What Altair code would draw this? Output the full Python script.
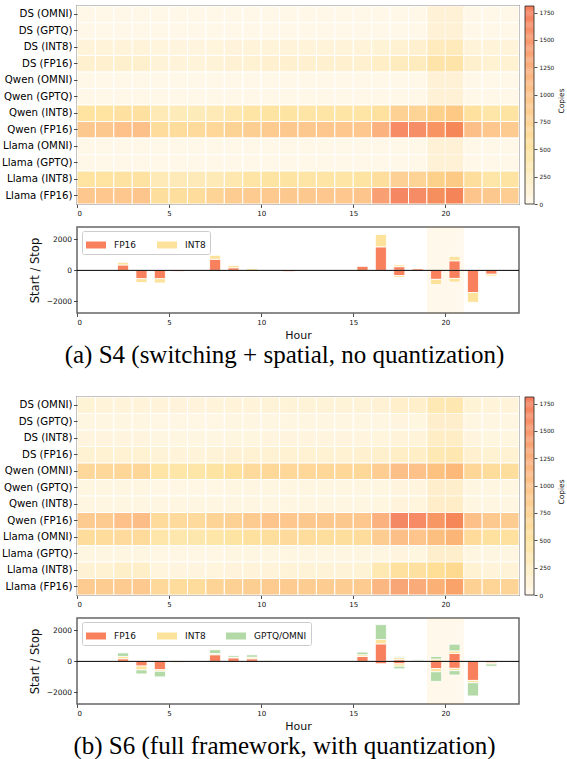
import altair as alt
import pandas as pd

# ---------------- data ----------------
hours = list(range(24))
rows = ["DS (OMNI)", "DS (GPTQ)", "DS (INT8)", "DS (FP16)",
        "Qwen (OMNI)", "Qwen (GPTQ)", "Qwen (INT8)", "Qwen (FP16)",
        "Llama (OMNI)", "Llama (GPTQ)", "Llama (INT8)", "Llama (FP16)"]

# S4 heatmap (copies per hour)
s4_ds_omni = [0, 0, 0, 0, 0, 0, 0, 0, 0, 0, 0, 0, 0, 0, 0, 0, 0, 0, 0, 0, 0, 0, 0, 0]
s4_ds_gptq = [0, 0, 0, 0, 0, 0, 0, 0, 0, 0, 0, 0, 0, 0, 0, 0, 0, 0, 0, 0, 0, 0, 0, 0]
s4_ds_int8 = [110, 110, 110, 110, 80, 70, 70, 80, 90, 100, 110, 110, 110, 110, 110, 110, 130, 160, 170, 180, 190, 110, 100, 100]
s4_ds_fp16 = [180, 180, 190, 190, 120, 110, 110, 120, 140, 160, 170, 170, 170, 170, 170, 180, 240, 290, 300, 340, 350, 190, 160, 160]
s4_qwen_omni = [0, 0, 0, 0, 0, 0, 0, 0, 0, 0, 0, 0, 0, 0, 0, 0, 0, 0, 0, 0, 0, 0, 0, 0]
s4_qwen_gptq = [0, 0, 0, 0, 0, 0, 0, 0, 0, 0, 0, 0, 0, 0, 0, 0, 0, 0, 0, 0, 0, 0, 0, 0]
s4_qwen_int8 = [520, 520, 540, 540, 360, 330, 330, 360, 400, 470, 500, 500, 470, 470, 480, 480, 560, 800, 760, 720, 860, 560, 450, 500]
s4_qwen_fp16 = [930, 930, 1030, 1040, 620, 620, 640, 700, 780, 850, 900, 930, 940, 950, 950, 960, 1200, 1650, 1620, 1560, 1720, 1060, 960, 900]
s4_llama_omni = [0, 0, 0, 0, 0, 0, 0, 0, 0, 0, 0, 0, 0, 0, 0, 0, 0, 0, 0, 0, 0, 0, 0, 0]
s4_llama_gptq = [0, 0, 0, 0, 0, 0, 0, 0, 0, 0, 0, 0, 0, 0, 0, 0, 0, 0, 0, 0, 0, 0, 0, 0]
s4_llama_int8 = [520, 520, 530, 530, 360, 340, 340, 360, 400, 470, 500, 500, 480, 480, 480, 490, 600, 790, 770, 740, 850, 600, 460, 500]
s4_llama_fp16 = [950, 950, 960, 1000, 600, 600, 620, 760, 880, 900, 920, 930, 940, 950, 950, 980, 1420, 1700, 1640, 1620, 1740, 1000, 930, 860]

# S6 heatmap
s6_ds_omni = [130, 110, 110, 110, 100, 90, 90, 100, 110, 110, 120, 120, 120, 120, 120, 120, 140, 210, 210, 260, 280, 130, 110, 110]
s6_ds_gptq = [40, 40, 40, 40, 30, 30, 30, 30, 40, 40, 40, 40, 40, 40, 40, 40, 50, 70, 60, 70, 80, 40, 40, 40]
s6_ds_int8 = [70, 70, 70, 70, 50, 50, 50, 50, 60, 60, 70, 70, 70, 70, 70, 70, 80, 110, 100, 120, 130, 70, 60, 60]
s6_ds_fp16 = [160, 160, 160, 160, 120, 110, 110, 120, 140, 150, 160, 160, 160, 160, 160, 170, 190, 240, 240, 260, 280, 170, 150, 150]
s6_qwen_omni = [680, 680, 720, 720, 480, 450, 450, 500, 560, 640, 690, 700, 700, 700, 700, 690, 860, 1060, 1030, 1000, 1100, 720, 620, 600]
s6_qwen_gptq = [40, 40, 40, 40, 30, 30, 30, 30, 40, 40, 40, 40, 40, 40, 40, 40, 50, 70, 70, 70, 80, 40, 40, 40]
s6_qwen_int8 = [50, 50, 50, 50, 40, 40, 40, 40, 50, 50, 50, 50, 50, 50, 50, 50, 60, 90, 80, 90, 100, 50, 50, 50]
s6_qwen_fp16 = [900, 900, 1030, 1080, 650, 640, 640, 760, 820, 900, 1000, 960, 940, 940, 940, 950, 1200, 1680, 1650, 1520, 1720, 1050, 920, 880]
s6_llama_omni = [620, 620, 640, 650, 440, 420, 420, 450, 500, 560, 600, 640, 620, 600, 600, 620, 880, 1060, 1000, 1020, 1150, 650, 560, 560]
s6_llama_gptq = [40, 40, 40, 40, 30, 30, 30, 30, 40, 40, 40, 40, 40, 40, 40, 40, 50, 70, 60, 70, 80, 40, 40, 40]
s6_llama_int8 = [140, 150, 220, 230, 80, 70, 70, 80, 90, 100, 110, 120, 120, 120, 120, 130, 380, 560, 540, 500, 600, 150, 110, 120]
s6_llama_fp16 = [900, 880, 900, 920, 680, 620, 620, 760, 800, 850, 900, 900, 880, 880, 880, 900, 1150, 1340, 1290, 1200, 1380, 820, 750, 760]

# S4 start/stop (positive = start, negative = stop)
s4_fp16_start = [0, 0, 350, 0, 0, 0, 0, 720, 170, 0, 0, 0, 0, 0, 0, 260, 1520, 240, 110, 0, 620, 0, 0, 0]
s4_fp16_stop = [0, 0, 0, -540, -540, -60, 0, 0, 0, 0, 0, -80, 0, 0, 0, 0, 0, -340, 0, -580, -520, -1430, -250, 0]
s4_int8_start = [0, 0, 170, 0, 0, 0, 0, 250, 150, 110, 0, 0, 0, 0, 0, 0, 800, 120, 20, 0, 290, 0, 0, 0]
s4_int8_stop = [0, 0, 0, -240, -270, 0, 0, 0, 0, 0, 0, 0, 0, 0, 0, 0, 0, -110, 0, -340, -240, -630, -120, 0]

# S6 start/stop
s6_fp16_start = [0, 0, 170, 0, 0, 0, 0, 430, 230, 170, 0, 0, 0, 0, 0, 320, 1130, 110, 0, 0, 510, 0, 0, 0]
s6_fp16_stop = [0, 0, 0, -300, -540, -50, 0, 0, 0, 0, 0, 0, 0, 0, 0, 0, -150, -160, 0, -470, -450, -1230, -100, 0]
s6_int8_start = [0, 0, 150, 0, 0, 0, 0, 80, 40, 100, 60, 0, 0, 0, 0, 110, 280, 130, 40, 150, 170, 0, 0, 0]
s6_int8_stop = [0, 0, 0, -250, -100, -50, 0, 0, 0, 0, 0, 0, 0, 0, 0, 0, 0, -150, 0, -200, -150, -150, -70, 0]
s6_gptq_start = [0, 0, 230, 0, 0, 0, 0, 240, 110, 150, 0, 0, 0, 0, 0, 170, 960, 80, 60, 170, 430, 0, 0, 0]
s6_gptq_stop = [0, 0, 0, -260, -360, 0, 0, 0, 0, 0, 0, 0, 0, 0, 0, 0, 0, -170, 0, -620, -280, -850, -140, 0]

highlight = [19, 21]
types_a = ["FP16", "INT8"]
types_b = ["FP16", "INT8", "GPTQ/OMNI"]
type_colors = ["#f8805d", "#fde29b", "#b3d9a7"]
heat_stops = [0, 500, 1000, 1810]
heat_colors = ["#fff8e8", "#fee4a2", "#fdc48b", "#f47d5c"]
cbar_ticks = [0, 250, 500, 750, 1000, 1250, 1500, 1750]
caption_a = "(a) S4 (switching + spatial, no quantization)"
caption_b = "(b) S6 (full framework, with quantization)"

# ---------------- layout constants ----------------
W = 442
HH = 198
BH = 86
FONT = "DejaVu Sans"


def heat_df(series):
    recs = []
    for r, vals in zip(rows, series):
        for h, v in zip(hours, vals):
            recs.append({"row": r, "h": h, "h1": h + 1, "v": v})
    return pd.DataFrame(recs)


def bar_df(pairs, names):
    recs = []
    for h in hours:
        pos, neg = 0, 0
        for name, (st, sp) in zip(names, pairs):
            if st[h] > 0:
                recs.append({"t": name, "x0": h + 0.2, "x1": h + 0.8, "y0": pos, "y1": pos + st[h]})
                pos += st[h]
            if sp[h] < 0:
                recs.append({"t": name, "x0": h + 0.2, "x1": h + 0.8, "y0": neg, "y1": neg + sp[h]})
                neg += sp[h]
    return pd.DataFrame(recs)


cscale = alt.Scale(domain=heat_stops, range=heat_colors, interpolate="rgb")
steps = list(range(0, 1810, 10))
cbar_df = pd.DataFrame({"lo": steps,
                        "hi": [min(s + 12, 1810) for s in steps],
                        "v": [s + 5 for s in steps]})
band_df = pd.DataFrame({"x0": [highlight[0]], "x1": [highlight[1]]})
one = pd.DataFrame({"a": [0]})


def heatmap(series):
    df = heat_df(series)
    xs = alt.Scale(domain=[0, 24], nice=False, zero=False)
    cells = alt.Chart(df).mark_rect(stroke="white", strokeWidth=1).encode(
        x=alt.X("h:Q", scale=xs,
                axis=alt.Axis(values=[0, 5, 10, 15, 20], format="d", title=None,
                              labelFontSize=7, tickSize=3.5, labelPadding=2,
                              domain=False, grid=False)),
        x2="h1:Q",
        y=alt.Y("row:N", sort=rows, scale=alt.Scale(paddingInner=0, paddingOuter=0),
                axis=alt.Axis(title=None, tickSize=3.5, labelPadding=1.5,
                              labelFontSize=10.2, labelColor="#000", domain=False)),
        color=alt.Color("v:Q", scale=cscale, legend=None),
    )
    overlay = alt.Chart(band_df).mark_rect(color="orange", opacity=0.08).encode(
        x=alt.X("x0:Q", scale=xs), x2="x1:Q", y=alt.value(0), y2=alt.value(HH))
    cbar = alt.Chart(cbar_df).mark_rect().encode(
        x=alt.value(W + 6), x2=alt.value(W + 15),
        y=alt.Y("lo:Q", scale=alt.Scale(domain=[0, 1810], nice=False, zero=False),
                axis=alt.Axis(orient="right", offset=15, values=cbar_ticks, format="d",
                              title=None, tickSize=3, labelFontSize=5.8, labelPadding=2,
                              domain=False, grid=False)),
        y2="hi:Q",
        color=alt.Color("v:Q", scale=cscale, legend=None),
    )
    frame = alt.Chart(one).mark_rect(fill="transparent", stroke="#222", strokeWidth=0.8).encode(
        x=alt.value(W + 6), x2=alt.value(W + 15), y=alt.value(0), y2=alt.value(HH))
    label = alt.Chart(one).mark_text(text="Copies", angle=270, fontSize=7.5, font=FONT,
                                     align="center", baseline="middle", color="#111").encode(
        x=alt.value(W + 43), y=alt.value(95))
    return alt.layer(cells, overlay, cbar, frame, label).resolve_scale(y="independent").properties(
        width=W, height=HH)


def barchart(pairs, names):
    df = bar_df(pairs, names)
    xs = alt.Scale(domain=[0, 24], nice=False, zero=False)
    band = alt.Chart(band_df).mark_rect(color="orange", opacity=0.08).encode(
        x=alt.X("x0:Q", scale=xs,
                axis=alt.Axis(values=[0, 5, 10, 15, 20], format="d", title="Hour",
                              titleFontSize=11, titlePadding=4, labelFontSize=7,
                              tickSize=3.5, labelPadding=2, domain=False, grid=False)),
        x2="x1:Q", y=alt.value(0), y2=alt.value(BH))
    bars = alt.Chart(df).mark_rect(stroke="white", strokeWidth=0.8).encode(
        x=alt.X("x0:Q", scale=xs), x2="x1:Q",
        y=alt.Y("y0:Q", scale=alt.Scale(domain=[-2750, 2800], nice=False, zero=False),
                axis=alt.Axis(values=[-2000, 0, 2000], format="d", title="Start / Stop",
                              titleFontSize=11.5, titlePadding=6, labelFontSize=7.5,
                              tickSize=3.5, labelPadding=2, domain=False, grid=False)),
        y2="y1:Q",
        color=alt.Color("t:N", scale=alt.Scale(domain=names, range=type_colors[:len(names)]),
                        legend=alt.Legend(title=None, orient="none", legendX=5, legendY=4,
                                          direction="horizontal", fillColor="white",
                                          strokeColor="#cccccc", cornerRadius=2, padding=4,
                                          symbolType="M-1,-0.35H1V0.35H-1Z", symbolSize=400,
                                          symbolStrokeWidth=0, symbolOpacity=1,
                                          labelFontSize=9, labelOffset=8, columnPadding=20)),
    )
    zero = alt.Chart(one).mark_rule(color="black", strokeWidth=1).encode(
        y=alt.datum(0), x=alt.value(0), x2=alt.value(W))
    return alt.layer(band, bars, zero).properties(width=W, height=BH)


def caption(text, h, y):
    return alt.Chart(pd.DataFrame({"t": [text]})).mark_text(
        font="Liberation Serif", fontSize=25, align="center", baseline="middle", color="black"
    ).encode(text="t:N", x=alt.value(283.5 - 76), y=alt.value(y)).properties(
        width=W, height=h, view=alt.ViewBackground(stroke="transparent"))


heat_a = heatmap([s4_ds_omni, s4_ds_gptq, s4_ds_int8, s4_ds_fp16,
                  s4_qwen_omni, s4_qwen_gptq, s4_qwen_int8, s4_qwen_fp16,
                  s4_llama_omni, s4_llama_gptq, s4_llama_int8, s4_llama_fp16])
heat_b = heatmap([s6_ds_omni, s6_ds_gptq, s6_ds_int8, s6_ds_fp16,
                  s6_qwen_omni, s6_qwen_gptq, s6_qwen_int8, s6_qwen_fp16,
                  s6_llama_omni, s6_llama_gptq, s6_llama_int8, s6_llama_fp16])
bars_a = barchart([(s4_fp16_start, s4_fp16_stop), (s4_int8_start, s4_int8_stop)], types_a)
bars_b = barchart([(s6_fp16_start, s6_fp16_stop), (s6_int8_start, s6_int8_stop),
                   (s6_gptq_start, s6_gptq_stop)], types_b)
cap_a = caption(caption_a, 38, 19)
cap_b = caption(caption_b, 30, 19)

chart = alt.vconcat(heat_a, bars_a, cap_a, heat_b, bars_b, cap_b, spacing=23, bounds="flush").resolve_scale(
    color="independent"
).properties(
    padding={"left": 0, "top": 4, "right": 0, "bottom": 0}
).configure_view(
    stroke="#666666", strokeWidth=1.5
).configure_axis(
    labelFont=FONT, titleFont=FONT, labelColor="#111", titleColor="#111",
    tickColor="#222", tickWidth=0.8, titleFontWeight="normal"
).configure_legend(
    labelFont=FONT, labelColor="#111"
)

chart.save("out.html", embed_options={"renderer": "svg", "actions": False})
